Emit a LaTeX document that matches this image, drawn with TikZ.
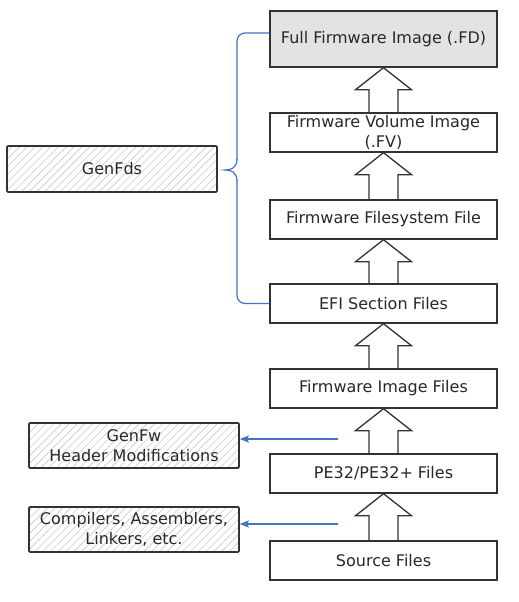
\documentclass[tikz,border=0pt]{standalone}
\usepackage{fontspec}
\setmainfont{DejaVu Sans}
\usetikzlibrary{calc,patterns.meta,arrows.meta}
\definecolor{linkblue}{RGB}{68,114,196}
\definecolor{boxline}{RGB}{50,50,50}
\definecolor{boxtext}{RGB}{40,40,40}
\tikzset{
    stage/.style={draw=boxline,line width=1.4pt,minimum width=227pt,minimum height=39pt,
        inner sep=0pt,align=center,text=boxtext,font=\fontsize{16}{20}\selectfont},
    tool/.style={draw=boxline,line width=1.6pt,rounded corners=1pt,minimum width=210pt,minimum height=45pt,
        inner sep=0pt,align=center,text=boxtext,font=\fontsize{16}{20}\selectfont,
        pattern={Lines[angle=45,distance=5.5pt,line width=0.6pt]},pattern color=gray!42},
    blockarrow/.style={draw=boxline,line width=1.3pt,line join=miter},
    bluelink/.style={draw=linkblue,line width=1.2pt}
}
\newcommand{\blockup}[2]{%
    \draw[blockarrow] ($(#1.north)+(-14.5,0)$) -- ($(#2.south)+(-14.5,22)$)
        -- ($(#2.south)+(-28,22)$) -- (#2.south) -- ($(#2.south)+(28,22)$)
        -- ($(#2.south)+(14.5,22)$) -- ($(#1.north)+(14.5,0)$);}
\begin{document}
\begin{tikzpicture}[x=1pt,y=-1pt]
    \useasboundingbox (0,0) rectangle (519,602);
    % build stages, bottom to top
    \node[stage,fill=gray!22,minimum height=56pt] (fd) at (383.5,39) {Full Firmware Image (.FD)};
    \node[stage] (fv) at (383.5,132.5) {Firmware Volume Image\\(.FV)};
    \node[stage] (ffs) at (383.5,219.5) {Firmware Filesystem File};
    \node[stage] (efi) at (383.5,303.5) {EFI Section Files};
    \node[stage] (fif) at (383.5,388.5) {Firmware Image Files};
    \node[stage] (pe) at (383.5,473.5) {PE32/PE32+ Files};
    \node[stage] (src) at (383.5,560.5) {Source Files};
    % tools
    \node[tool,minimum height=46pt] (genfds) at (112,169) {GenFds};
    \node[tool] (genfw) at (134,445.5) {GenFw\\Header Modifications};
    \node[tool] (cc) at (134,529.5) {Compilers, Assemblers,\\Linkers, etc.};
    % block arrows
    \blockup{fv}{fd}
    \blockup{ffs}{fv}
    \blockup{efi}{ffs}
    \blockup{fif}{efi}
    \blockup{pe}{fif}
    \blockup{src}{pe}
    % tool links
    \coordinate (fwfrom) at (338,439);
    \coordinate (ccfrom) at (338,524);
    \draw[bluelink,-{Stealth[length=9pt,width=7pt,inset=1.5pt]}] (fwfrom) -- (fwfrom -| genfw.east);
    \draw[bluelink,-{Stealth[length=9pt,width=7pt,inset=1.5pt]}] (ccfrom) -- (ccfrom -| cc.east);
    % brace for GenFds
    \coordinate (bracetip) at (225,170);
    \draw[bluelink,rounded corners=8pt] ($(fd.west)+(0,-6)$) -- (237,33) -- (237,160);
    \draw[bluelink] (237,159) .. controls (237,168) and (231,170) .. (bracetip)
        .. controls (231,170) and (237,172) .. (237,181);
    \draw[bluelink,rounded corners=8pt] (237,180) -- (237,303.5) -- (efi.west);
\end{tikzpicture}
\end{document}
